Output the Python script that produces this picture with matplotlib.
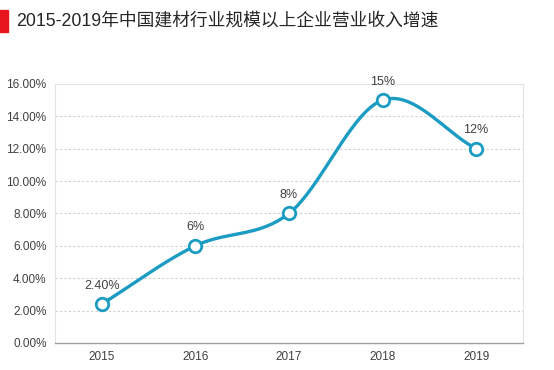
import matplotlib.pyplot as plt
import numpy as np
from matplotlib.patches import Rectangle

plt.rcParams['font.family'] = ['Liberation Sans', 'Noto Sans CJK SC', 'DejaVu Sans']

years = ['2015', '2016', '2017', '2018', '2019']
growth = [2.40, 6.0, 8.0, 15.0, 12.0]
labels = ['2.40%', '6%', '8%', '15%', '12%']
title = '2015-2019年中国建材行业规模以上企业营业收入增速'
yticks = [0, 2, 4, 6, 8, 10, 12, 14, 16]

color = '#1c9cc2'


def smooth(x, y, n=40):
    # Catmull-Rom style smoothing like a spreadsheet "smoothed line"
    x = np.asarray(x, float)
    y = np.asarray(y, float)
    px = np.concatenate([[2 * x[0] - x[1]], x, [2 * x[-1] - x[-2]]])
    py = np.concatenate([[2 * y[0] - y[1]], y, [2 * y[-1] - y[-2]]])
    xs, ys = [], []
    t = np.linspace(0, 1, n)
    for i in range(1, len(px) - 2):
        for p, out in ((px, xs), (py, ys)):
            p0, p1, p2, p3 = p[i - 1], p[i], p[i + 1], p[i + 2]
            m1 = (p2 - p0) / 2
            m2 = (p3 - p1) / 2
            h00 = 2 * t**3 - 3 * t**2 + 1
            h10 = t**3 - 2 * t**2 + t
            h01 = -2 * t**3 + 3 * t**2
            h11 = t**3 - t**2
            out.append(h00 * p1 + h10 * m1 + h01 * p2 + h11 * m2)
    return np.concatenate(xs), np.concatenate(ys)


fig = plt.figure(figsize=(5.54, 3.70), dpi=100)
ax = fig.add_axes([0.099, 0.073, 0.845, 0.70])

x = np.arange(len(years))
sx, sy = smooth(x, growth)
ax.plot(sx, sy, color=color, lw=2.4, zorder=3)
ax.plot(x, growth, 'o', ms=9, mfc='white', mec=color, mew=2, zorder=4)

for xi, yi, lab in zip(x, growth, labels):
    ax.annotate(lab, (xi, yi), xytext=(0, 9), textcoords='offset points',
                ha='center', va='bottom', fontsize=9, color='#404040')

ax.set_xlim(-0.5, len(years) - 0.5)
ax.set_ylim(0, 16)
ax.set_xticks(x)
ax.set_xticklabels(years)
ax.set_yticks(yticks)
ax.set_yticklabels(['%.2f%%' % v for v in yticks])
ax.tick_params(length=0, labelsize=8.5, colors='#404040', pad=6)

for v in yticks[1:-1]:
    ax.axhline(v, color='#d0d0d0', lw=0.8, ls=(0, (2, 2)), zorder=1)

for s in ['top', 'right', 'left']:
    ax.spines[s].set_color('#e4e4e4')
    ax.spines[s].set_linewidth(0.8)
ax.spines['bottom'].set_color('#a0a0a0')
ax.spines['bottom'].set_linewidth(1.0)

# title with red marker bar
fig.patches.append(Rectangle((0, 1 - 32 / 370), 8 / 554, 22 / 370,
                             transform=fig.transFigure, color='#e8141b'))
fig.text(16 / 554, 1 - 21 / 370, title, fontsize=12.8, color='#262626',
         va='center', ha='left')

fig.savefig('out.png', dpi=100)
